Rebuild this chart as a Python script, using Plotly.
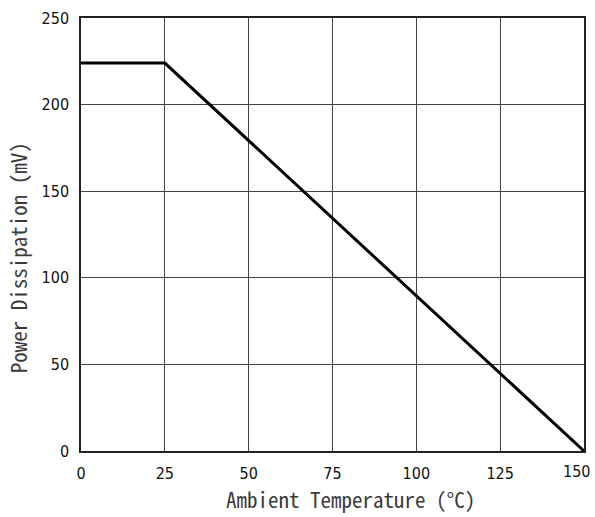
import plotly.graph_objects as go

# Derating curve: power dissipation vs ambient temperature
temperature = [0, 25, 150]
power = [224, 224, 0]

x_ticks = [0, 25, 50, 75, 100, 125, 150]
y_ticks = [0, 50, 100, 150, 200, 250]

x_title = "Ambient Temperature (°C)"
y_title = "Power Dissipation (mV)"

fig = go.Figure()
fig.add_trace(go.Scatter(
    x=temperature, y=power, mode="lines",
    line=dict(color="#000000", width=3),
    showlegend=False, hoverinfo="skip",
))

tick_font = dict(family="Liberation Sans Narrow, DejaVu Sans Condensed, Arial Narrow, sans-serif",
                 size=16, color="#111111")
title_font = dict(family="Noto Sans Mono CJK JP, Liberation Mono, monospace", size=21, color="#3a3a3a")

fig.update_xaxes(
    range=[0, 150], tickvals=x_ticks[:-1], ticktext=[str(v) for v in x_ticks[:-1]],
    showgrid=True, gridcolor="#444444", gridwidth=1,
    showline=True, linecolor="#222222", linewidth=1.5, mirror=True,
    zeroline=False, ticks="", tickfont=tick_font, ticklabelstandoff=7,
)
fig.update_yaxes(
    range=[0, 250], tickvals=y_ticks, ticktext=[str(v) for v in y_ticks],
    showgrid=True, gridcolor="#444444", gridwidth=1,
    showline=True, linecolor="#222222", linewidth=1.5, mirror=True,
    zeroline=False, ticks="", tickfont=tick_font, ticklabelstandoff=7,
)

# Label for the last tick, pulled inside the page edge
fig.add_annotation(
    x=x_ticks[-1], y=0, xref="x", yref="paper", text=str(x_ticks[-1]),
    showarrow=False, xanchor="center", yanchor="top", xshift=-8, yshift=-9,
    font=tick_font,
)

# Axis titles
fig.add_annotation(
    x=0.535, y=0, xref="paper", yref="paper", text=x_title,
    showarrow=False, xanchor="center", yanchor="middle", yshift=-48,
    font=title_font,
)
fig.add_annotation(
    x=0, y=0.445, xref="paper", yref="paper", text=y_title, textangle=-90,
    showarrow=False, xanchor="center", yanchor="middle", xshift=-63,
    font=title_font,
)

fig.update_layout(
    width=595, height=517,
    margin=dict(l=81, r=9, t=15, b=66),
    paper_bgcolor="white", plot_bgcolor="white",
)

fig.write_html("out.html")
